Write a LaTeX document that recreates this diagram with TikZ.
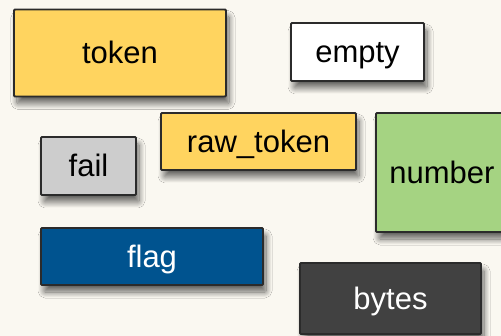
\documentclass[tikz,border=0pt]{standalone}
\usepackage{fontspec}
\setmainfont{Liberation Sans}
\usetikzlibrary{shadows.blur}
\definecolor{paper}{HTML}{FAF8F1}
\definecolor{edge}{HTML}{2B2B2B}
\definecolor{ylw}{HTML}{FFD45F}
\definecolor{lgray}{HTML}{CDCDCD}
\definecolor{navy}{HTML}{00538F}
\definecolor{lgreen}{HTML}{A5D382}
\definecolor{charcoal}{HTML}{414141}
\tikzset{
  tag/.style={draw=edge, line width=1.8pt, rounded corners=1pt, inner sep=0pt,
    font=\fontsize{31}{34}\selectfont, text=black, text height=22pt, text depth=0pt,
    blur shadow={shadow xshift=3pt, shadow yshift=-7pt, shadow blur radius=6pt, shadow blur steps=12, shadow opacity=60}},
}
\begin{document}
\begin{tikzpicture}[x=1pt,y=-1pt]
  \fill[paper] (0,0) rectangle (501,336);
  \useasboundingbox (0,0) rectangle (501,336);
  \clip (0,0) rectangle (501,336);
  % boxes placed by centre and size (px, y downwards)
  \node[tag, fill=ylw, minimum width=212pt, minimum height=87pt] (token) at (120,53) {token};
  \node[tag, fill=white, minimum width=133pt, minimum height=58pt] (empty) at (357.5,52) {empty};
  \node[tag, fill=lgray, minimum width=95pt, minimum height=58pt] (fail) at (88.5,166) {fail};
  \node[tag, fill=ylw, minimum width=195pt, minimum height=57pt] (rawtoken) at (258.5,141.5) {raw\_token};
  \node[tag, fill=lgreen, minimum width=132pt, minimum height=119pt] (number) at (442,172.5) {number};
  \node[tag, fill=navy, text=white, minimum width=222pt, minimum height=57pt] (flag) at (152,256.5) {flag};
  \node[tag, fill=charcoal, text=white, minimum width=181pt, minimum height=71pt] (bytes) at (390.5,298.5) {bytes};
\end{tikzpicture}
\end{document}
